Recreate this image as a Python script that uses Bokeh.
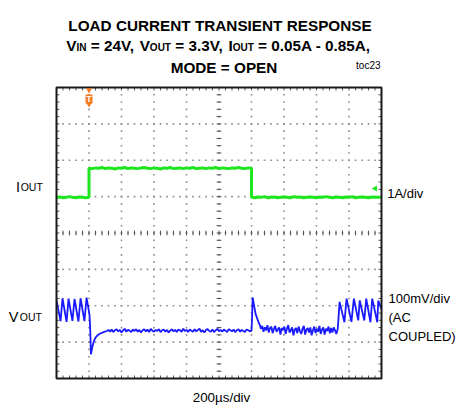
import numpy as np
from bokeh.plotting import figure
from bokeh.models import Range1d, Label
from bokeh.core.properties import value
from bokeh.embed import file_html
from bokeh.resources import INLINE

# ---------------- data ----------------
us_per_div = 200          # 200us/div
n_xdiv = 10
n_ydiv = 8
a_per_div = 1.0           # 1A/div
mv_per_div = 100.0        # 100mV/div
i_zero_div = 4.93         # screen division of 0 A
v_zero_div = 1.306        # screen division of 0 mV (AC coupled)

step_on_us = 200
step_off_us = 1200
i_sample_us = 20

# IOUT (A)
io_low1 = [0.05, 0.06, 0.04, 0.05, 0.07, 0.05, 0.04, 0.06, 0.05, 0.04, 0.05]
io_high = [0.85, 0.84, 0.86, 0.85, 0.87, 0.84, 0.86, 0.85, 0.83, 0.86,
           0.85, 0.87, 0.84, 0.86, 0.85, 0.84, 0.86, 0.87, 0.85, 0.84,
           0.86, 0.85, 0.83, 0.86, 0.85, 0.87, 0.84, 0.85, 0.86, 0.84,
           0.86, 0.85, 0.87, 0.84, 0.85, 0.86, 0.84, 0.86, 0.85, 0.87,
           0.84, 0.86, 0.85, 0.84, 0.86, 0.85, 0.87, 0.85, 0.84, 0.86, 0.85]
io_low2 = [0.05, 0.04, 0.06, 0.05, 0.07, 0.04, 0.05, 0.06, 0.04, 0.05,
           0.06, 0.05, 0.04, 0.07, 0.05, 0.06, 0.04, 0.05, 0.06, 0.05,
           0.04, 0.06, 0.05, 0.07, 0.05, 0.04, 0.06, 0.05, 0.04, 0.06,
           0.05, 0.07, 0.04, 0.05, 0.06, 0.05, 0.04, 0.06, 0.05, 0.05, 0.06]

# VOUT (mV, AC coupled)
vo_pre_t = [0, 25, 37, 62, 74, 98, 111, 135, 148, 172, 185, 203, 207, 212,
            220, 230, 240, 255, 270, 290]
vo_pre = [84, 27, 90, 25, 89, 28, 88, 26, 90, 27, 92, 45, 10, -64,
          -45, -28, -18, -11, -7, -3]
vo_heavy_t0 = 310
vo_heavy_dt = 10
vo_heavy = [0, 3, -2, 4, -3, 2, 5, -1, 3, -4,
            2, 6, -2, 3, 1, -3, 4, 0, 5, -2,
            3, -4, 2, 5, -1, 4, -3, 6, 1, -2,
            3, 0, 5, -3, 2, 4, -2, 3, -4, 1,
            5, -1, 3, -3, 4, 2, -2, 6, 0, 3,
            -3, 4, 1, -2, 5, -1, 3, 6, -2, 2,
            -4, 3, 5, 0, -2, 4, -3, 2, 6, -1,
            3, -2, 4, 1, -3, 5, 2, -1, 4, -3,
            2, 5, -2, 3, 0, -3, 4, 2, -1, 1]
vo_rel_t = [1203, 1207, 1225, 1245]
vo_rel = [30, 92, 47, 22]
vo_light_t0 = 1250
vo_light_dt = 8
vo_light = [18, 6, 14, -2, 10, 2, 16, -4, 8, 12,
            -6, 6, 14, -2, 4, 10, -10, 8, 2, 12,
            -8, 6, 16, -4, 2, 10, -12, 4, 8, -6,
            12, 0, -8, 6, 14, -10, 4, 8, -4, 10,
            -12, 2, 12, -6, 6, -2, 14, -8, 4, 10,
            -10, 6, 0, 12, -6, 8, -4, 10, 2, -8]
vo_post_t = [1731, 1742, 1772, 1785, 1815, 1830, 1857, 1866, 1894, 1906,
             1932, 1943, 1974, 1980, 2000]
vo_post = [6, 80, 24, 89, 25, 89, 29, 84, 29, 89, 24, 89, 24, 84, 60]

trigger_us = 200
ground_marker_div = 5.22

title1 = "LOAD CURRENT TRANSIENT RESPONSE"
title2 = [("V", "m"), ("IN", "s"), (" = 24V, ", "m"), ("V", "m"), ("OUT", "s"),
          (" = 3.3V, ", "m"), ("I", "m"), ("OUT", "s"), (" = 0.05A - 0.85A,", "m")]
title3 = "MODE = OPEN"
toc_label = "toc23"
x_label = "200\u00b5s/div"
i_scale_label = "1A/div"
v_scale_lines = ["100mV/div", "(AC", "COUPLED)"]

# ---------------- layout ----------------
W, H = 456, 409
BOX_L, BOX_T, BOX_W, BOX_H = 56, 87, 325, 291   # scope screen, in canvas pixels
X_END = us_per_div * n_xdiv
FONT = "Liberation Sans"

def px2d(px):
    return (px - BOX_L) / BOX_W * X_END

def py2d(py):
    return (BOX_T + BOX_H - py) / BOX_H * n_ydiv

y_lo, y_hi = py2d(H), py2d(0)
p = figure(width=W, height=H, x_range=Range1d(px2d(0), px2d(W)), y_range=Range1d(y_lo, y_hi),
           x_axis_type=None, y_axis_type=None, toolbar_location=None,
           output_backend="svg", title=None, min_border=0)
p.outline_line_color = None
p.background_fill_color = "white"
p.border_fill_color = "white"
p.extra_y_ranges = {
    "iout": Range1d((y_lo - i_zero_div) * a_per_div, (y_hi - i_zero_div) * a_per_div),
    "vout": Range1d((y_lo - v_zero_div) * mv_per_div, (y_hi - v_zero_div) * mv_per_div),
}

# grid dots
minor_x = np.arange(0, X_END + 1, us_per_div / 5)
minor_y = np.arange(0, n_ydiv + 0.001, 0.2)
gx, gy = [], []
for k in range(1, n_xdiv):
    gx += [k * us_per_div] * len(minor_y)
    gy += list(minor_y)
for k in range(1, n_ydiv):
    gx += list(minor_x)
    gy += [k] * len(minor_x)
p.scatter(gx, gy, marker="square", size=1.6, color="#8a8a8a", line_color=None)

# ticks
tx = 3.0 / BOX_W * X_END
ty = 3.0 / BOX_H * n_ydiv
inner_x = minor_x[1:-1]
inner_y = minor_y[1:-1]
x0s, y0s, x1s, y1s = [], [], [], []
for x in inner_x:
    x0s += [x, x]; x1s += [x, x]; y0s += [n_ydiv, 0]; y1s += [n_ydiv - ty, ty]
    x0s.append(x); x1s.append(x); y0s.append(n_ydiv / 2 - 0.8 * ty); y1s.append(n_ydiv / 2 + 0.8 * ty)
for y in inner_y:
    y0s += [y, y]; y1s += [y, y]; x0s += [0, X_END]; x1s += [tx, X_END - tx]
    y0s.append(y); y1s.append(y); x0s.append(X_END / 2 - 0.8 * tx); x1s.append(X_END / 2 + 0.8 * tx)
p.segment(x0s, y0s, x1s, y1s, line_color="#555555", line_width=1)

# IOUT trace
t_i = np.concatenate([i_sample_us * np.arange(len(io_low1)),
                      step_on_us + i_sample_us * np.arange(len(io_high)),
                      step_off_us + i_sample_us * np.arange(len(io_low2))])
i_vals = np.concatenate([io_low1, io_high, io_low2])
p.line(t_i, i_vals, y_range_name="iout", line_color="#1ee61e", line_width=3)

# VOUT trace
t_v = np.concatenate([vo_pre_t,
                      vo_heavy_t0 + vo_heavy_dt * np.arange(len(vo_heavy)),
                      vo_rel_t,
                      vo_light_t0 + vo_light_dt * np.arange(len(vo_light)),
                      vo_post_t])
v_vals = np.concatenate([vo_pre, vo_heavy, vo_rel, vo_light, vo_post])
p.line(t_v, v_vals, y_range_name="vout", line_color="#1a1aff", line_width=1.8)

# scope screen border
p.quad(left=[0], right=[X_END], bottom=[0], top=[n_ydiv], fill_color=None,
       line_color="#1a1a1a", line_width=2)

# trigger marker
orange = "#f47920"
p.scatter([trigger_us], [py2d(89.5)], marker="inverted_triangle", size=6, color=orange, line_color=None)
p.rect([trigger_us], [py2d(98.5)], width=7, height=9, width_units="screen", height_units="screen",
       fill_color=orange, line_color=None)
p.scatter([trigger_us], [py2d(103.5)], marker="inverted_triangle", size=6, color=orange, line_color=None)
p.text([trigger_us], [py2d(98.5)], text=["T"], text_color="white", text_font=value(FONT),
       text_font_size="9px", text_font_style="bold", text_align="center", text_baseline="middle")

# ground marker (right)
p.scatter([px2d(374.7)], [ground_marker_div], marker="triangle", angle=np.pi / 2, size=6,
          color="#1ee61e", line_color=None)

# ---------------- texts ----------------
AB = {' ': 278, ',': 278, '-': 333, '.': 278, '=': 584, 'A': 722, 'C': 722, 'D': 722, 'E': 667,
      'I': 278, 'L': 611, 'M': 833, 'N': 722, 'O': 778, 'P': 667, 'R': 722, 'S': 667, 'T': 611,
      'U': 722, 'V': 667}
for d in "0123456789":
    AB[d] = 556

def tw(s, size):
    return sum(AB[c] for c in s) * size / 1000.0

def lab(px, py, text, size, bold=False, align="left", color="black"):
    p.add_layout(Label(x=px2d(px), y=py2d(py), text=text, text_font=FONT,
                       text_font_size=f"{size}px", text_font_style="bold" if bold else "normal",
                       text_align=align, text_baseline="alphabetic", text_color=color))

F_T = 15.3
F_S = 10.0
lab(219.5, 25, title1, F_T, bold=True, align="center")
total = sum(tw(s, F_T if k == "m" else F_S) for s, k in title2)
x = 218 - total / 2
for s, k in title2:
    size = F_T if k == "m" else F_S
    dy = 0 if k == "m" else 2.0
    lead = len(s) - len(s.lstrip(" "))
    lab(x + tw(" " * lead, size), 45 + dy, s.strip(" "), size, bold=True)
    x += tw(s, size)
lab(223.5, 66.5, title3, F_T, bold=True, align="center")
lab(380, 65, toc_label, 10, align="right")

# left channel labels
lab(15.4, 186.5, "I", 14.5)
lab(20.2, 186.5, "OUT", 10.5)
lab(8.3, 316, "V", 14.5)
lab(19.3, 316, "OUT", 10.5)

# right scale labels
lab(386.7, 192.5, i_scale_label, 13)
for j, s in enumerate(v_scale_lines):
    lab(388, 298 + 19 * j, s, 13)

# bottom
lab(221, 397, x_label, 13.4, align="center")

open("out.html", "w").write(file_html(p, INLINE))
